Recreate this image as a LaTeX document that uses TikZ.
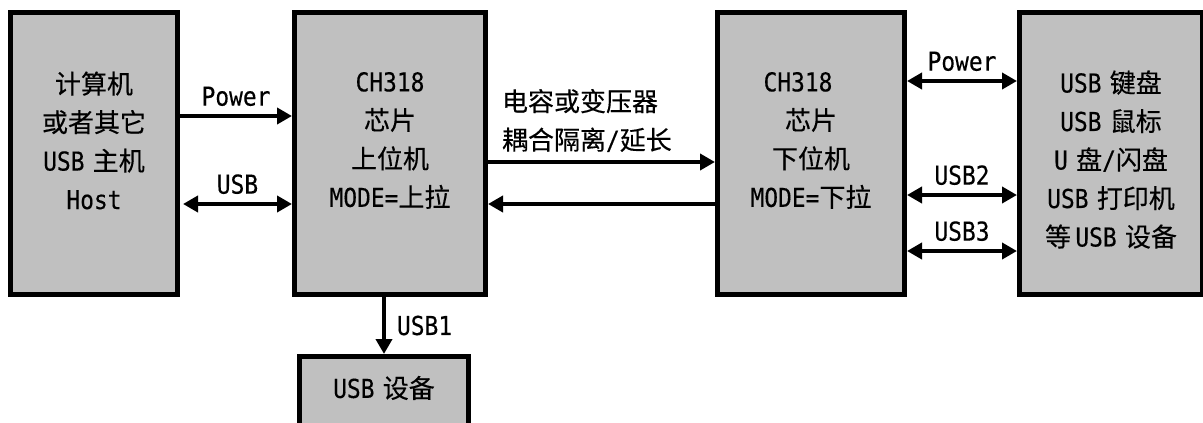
\documentclass[tikz,border=0pt]{standalone}
\usepackage{fontspec}
\setmainfont[FakeStretch=0.88, WordSpace=0.6, FakeBold=0.3]{DejaVu Sans Mono}
\newfontfamily\cjk[FakeBold=0.35]{Noto Sans CJK SC}
\newcommand\zh[1]{{\cjk #1}}
\usetikzlibrary{arrows.meta}
\definecolor{boxgray}{RGB}{192,192,192}
\tikzset{
  blk/.style={draw=black, fill=boxgray, line width=5pt, inner sep=0pt},
  txt/.style={align=center, font=\fontsize{26}{38.5}\selectfont, inner sep=0pt},
  lbl/.style={font=\fontsize{26}{30}\selectfont, inner sep=0pt},
  arr/.style={line width=4pt, -{Triangle[length=15pt,width=16pt]}},
  darr/.style={line width=4pt, {Triangle[length=15pt,width=16pt]}-{Triangle[length=15pt,width=16pt]}}
}

\begin{document}
\begin{tikzpicture}[x=1pt, y=-1pt]
  \useasboundingbox (0,0) rectangle (1203,423);
  \clip (0,0) rectangle (1203,423);

  % boxes
  \node[blk, minimum width=167, minimum height=282] (host) at (94,153.5) {};
  \node[blk, minimum width=191, minimum height=282] (up) at (390,153.5) {};
  \node[blk, minimum width=169, minimum height=69] (dev) at (384,391) {};
  \node[blk, minimum width=187, minimum height=282] (down) at (811,153.5) {};
  \node[blk, minimum width=183, minimum height=282] (periph) at (1111,153.5) {};

  % box texts
  \node[txt] (hostT) at ([yshift=13pt]host.center) {\zh{计算机}\\ \zh{或者其它}\\ USB \zh{主机}\\ Host};
  \node[txt] (upT) at ([yshift=13pt]up.center) {CH318\\ \zh{芯片}\\ \zh{上位机}\\ MODE=\zh{上拉}};
  \node[txt] (downT) at ([yshift=13pt]down.center) {CH318\hspace*{26pt}\\ \zh{芯片}\\ \zh{下位机}\\ MODE=\zh{下拉}};
  \node[txt] (periphT) at ([yshift=-6pt]periph.center) {USB \zh{键盘}\\ USB \zh{鼠标}\\ U \zh{盘}/\zh{闪盘}\\ USB \zh{打印机}\\ \zh{等}\,USB \zh{设备}};
  \node[txt] (devT) at ([yshift=3pt]dev.center) {USB \zh{设备}};

  % host <-> upper chip
  \draw[arr] (host.east |- 0,116) -- node[lbl, midway, above=8pt] {Power} (up.west |- 0,116);
  \draw[darr] ([xshift=3pt]host.east |- 0,204) -- node[lbl, midway, above=8pt] {USB} (up.west |- 0,204);

  % upper chip <-> lower chip
  \draw[arr] (up.east |- 0,162) -- node[txt, pos=0, anchor=south west, align=left, xshift=12pt, yshift=8pt] {\zh{电容或变压器}\\ \zh{耦合隔离}/\zh{延长}} (down.west |- 0,162);
  \draw[arr] (down.west |- 0,204) -- (up.east |- 0,204);

  % upper chip -> device
  \draw[arr] (dev.north |- up.south) -- node[lbl, midway, right=11pt] {USB1} (dev.north);

  % lower chip <-> peripherals
  \draw[darr] (down.east |- 0,81) -- node[lbl, midway, above=8pt] {Power} (periph.west |- 0,81);
  \draw[darr] (down.east |- 0,195) -- node[lbl, midway, above=8pt] {USB2} (periph.west |- 0,195);
  \draw[darr] (down.east |- 0,251) -- node[lbl, midway, above=8pt] {USB3} (periph.west |- 0,251);
\end{tikzpicture}
\end{document}
